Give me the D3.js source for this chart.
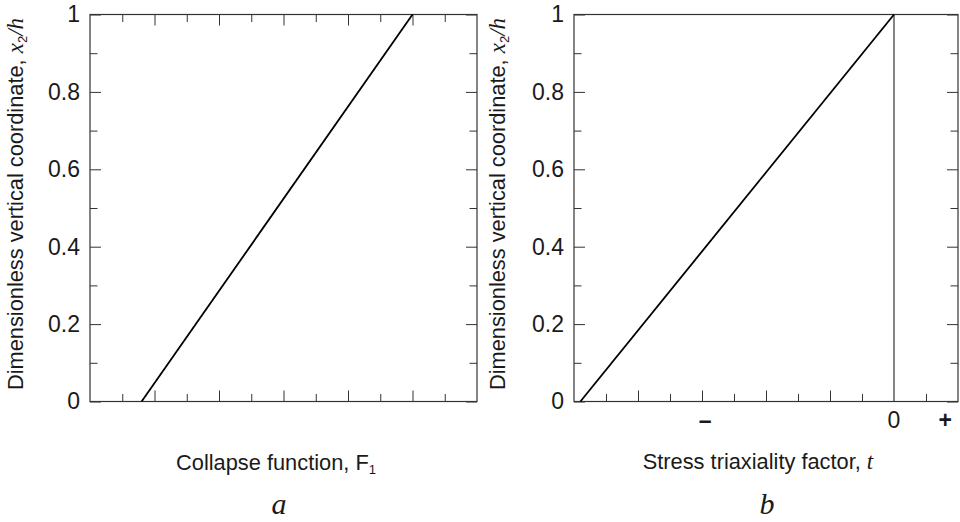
<!DOCTYPE html>
<html>
<head>
    <meta charset="UTF-8">
    <title>Collapse function and stress triaxiality</title>
    <script src="https://d3js.org/d3.v7.min.js"></script>
    <style type="text/css">
        body { margin: 0; background: #fff; }
        text { font-family: "Liberation Sans", Arial, sans-serif; fill: #1a1a1a; }
        .it { font-family: "Liberation Serif", "Times New Roman", serif; font-style: italic; }
    </style>
</head>
<body>
    <svg id="chart"></svg>

    <script>
        // data
        const collapseF = [1.6, 10];     // collapse function (arbitrary units)
        const collapseY = [0, 1];        // x2/h
        const triaxT = [-9.8, 0];        // stress triaxiality factor (arbitrary units)
        const triaxY = [0, 1];
        const yMajor = [0, 0.2, 0.4, 0.6, 0.8, 1];
        const yMajorLabels = ["0", "0.2", "0.4", "0.6", "0.8", "1"];
        const yMinor = [0.1, 0.3, 0.5, 0.7, 0.9];
        const fMajor = [2, 4, 6, 8, 10];
        const fMinor = [1, 3, 5, 7, 9, 11];
        const tMajor = [-8, -6, -4, -2];
        const tMinor = [-9, -7, -5, -3, -1, 1];
        const tLabelPos = [-5.9, 0, 1.6];
        const tLabels = ["\u2013", "0", "+"];

        const WIDTH = 960;
        const HEIGHT = 522;
        const TOP = 14.5, BOTTOM = 401.5;
        const MAJOR = 11, MINOR = 7.5;

        const svg = d3.select("#chart")
            .attr("width", WIDTH)
            .attr("height", HEIGHT);

        const y = d3.scaleLinear().domain([0, 1]).range([BOTTOM, TOP]);

        // draws a set of inward ticks with d3 axes, no domain path
        const ticks = function(g, axis, vals, size, fmt) {
            const a = g.append("g").call(axis.tickValues(vals).tickSize(-size).tickFormat(fmt || (() => "")));
            a.select(".domain").remove();
            a.selectAll(".tick line").attr("stroke", "#333").attr("stroke-width", 1);
            return a;
        };

        const frame = function(g, x) {
            g.append("rect")
                .attr("x", x.range()[0])
                .attr("y", TOP)
                .attr("width", x.range()[1] - x.range()[0])
                .attr("height", BOTTOM - TOP)
                .attr("fill", "none")
                .attr("stroke", "#333")
                .attr("stroke-width", 1.2);
        };

        const yLabel = function(g, xpos) {
            const t = g.append("text")
                .attr("transform", `translate(${xpos}, 204) rotate(-90)`)
                .attr("text-anchor", "middle")
                .style("font-size", "21.8px");
            t.append("tspan").text("Dimensionless vertical coordinate, ");
            t.append("tspan").attr("class", "it").style("font-size", "23px").text("x");
            t.append("tspan").attr("dy", 4).style("font-size", "13px").text("2");
            t.append("tspan").attr("dy", -4).attr("class", "it").style("font-size", "23px").text("/h");
        };

        const yAxes = function(g, x) {
            const left = x.range()[0], right = x.range()[1];
            const l = g.append("g").attr("transform", `translate(${left},0)`);
            ticks(l, d3.axisLeft(y), yMajor, MAJOR, (d, i) => yMajorLabels[i])
                .selectAll("text")
                .attr("x", -10)
                .style("font-size", "23px")
                .style("font-family", "Liberation Sans, Arial, sans-serif");
            ticks(l, d3.axisLeft(y), yMinor, MINOR);
            const r = g.append("g").attr("transform", `translate(${right},0)`);
            ticks(r, d3.axisRight(y), yMajor, MAJOR);
            ticks(r, d3.axisRight(y), yMinor, MINOR);
        };

        const line = (x) => d3.line().x((d) => x(d[0])).y((d) => y(d[1]));

        //---------Panel a-----------
        const xa = d3.scaleLinear().domain([0, 12]).range([90, 477]);
        const ga = svg.append("g");
        yAxes(ga, xa);
        const ba = ga.append("g").attr("transform", `translate(0,${BOTTOM})`);
        ticks(ba, d3.axisBottom(xa), fMajor, MAJOR);
        ticks(ba, d3.axisBottom(xa), fMinor, MINOR);
        const ta = ga.append("g").attr("transform", `translate(0,${TOP})`);
        ticks(ta, d3.axisTop(xa), fMajor, MAJOR);
        ticks(ta, d3.axisTop(xa), fMinor, MINOR);
        frame(ga, xa);

        ga.append("path")
            .datum(d3.zip(collapseF, collapseY))
            .attr("d", line(xa))
            .attr("fill", "none")
            .attr("stroke", "#000")
            .attr("stroke-width", 1.8);

        yLabel(ga, 23);

        const xla = ga.append("text")
            .attr("x", 276)
            .attr("y", 470)
            .attr("text-anchor", "middle")
            .style("font-size", "21.8px");
        xla.append("tspan").text("Collapse function, F");
        xla.append("tspan").attr("dy", 4).style("font-size", "13px").text("1");

        ga.append("text")
            .attr("class", "it")
            .attr("x", 279)
            .attr("y", 514)
            .attr("text-anchor", "middle")
            .style("font-size", "30px")
            .text("a");

        //---------Panel b-----------
        const xb = d3.scaleLinear().domain([-10, 2]).range([574, 958]);
        const gb = svg.append("g");
        yAxes(gb, xb);
        const bb = gb.append("g").attr("transform", `translate(0,${BOTTOM})`);
        ticks(bb, d3.axisBottom(xb), tMajor, MAJOR);
        ticks(bb, d3.axisBottom(xb), tMinor, MINOR);
        frame(gb, xb);

        // zero line
        gb.append("line")
            .attr("x1", xb(0)).attr("x2", xb(0))
            .attr("y1", y(0)).attr("y2", y(1))
            .attr("stroke", "#333")
            .attr("stroke-width", 1.2);

        gb.append("path")
            .datum(d3.zip(triaxT, triaxY))
            .attr("d", line(xb))
            .attr("fill", "none")
            .attr("stroke", "#000")
            .attr("stroke-width", 1.8);

        gb.selectAll(".tlab")
            .data(tLabels)
            .enter().append("text")
            .attr("class", "tlab")
            .attr("x", (d, i) => xb(tLabelPos[i]))
            .attr("y", 428)
            .attr("text-anchor", "middle")
            .style("font-size", "23px")
            .style("font-weight", (d) => d == "0" ? "normal" : "bold")
            .text((d) => d);

        yLabel(gb, 505);

        const xlb = gb.append("text")
            .attr("x", 758)
            .attr("y", 469)
            .attr("text-anchor", "middle")
            .style("font-size", "21.8px");
        xlb.append("tspan").text("Stress triaxiality factor, ");
        xlb.append("tspan").attr("class", "it").style("font-size", "23px").text("t");

        gb.append("text")
            .attr("class", "it")
            .attr("x", 767)
            .attr("y", 514)
            .attr("text-anchor", "middle")
            .style("font-size", "30px")
            .text("b");
    </script>
</body>
</html>
